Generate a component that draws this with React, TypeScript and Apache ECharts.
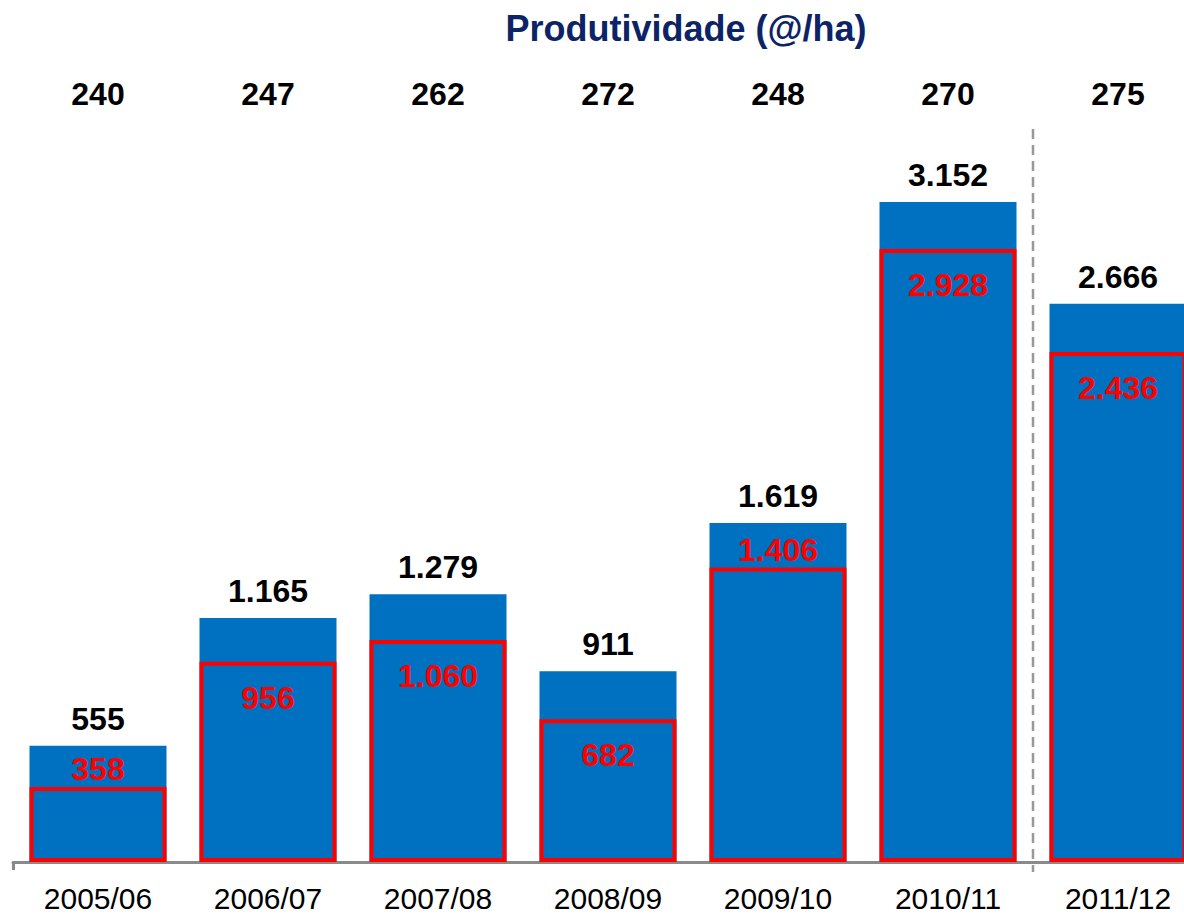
import React, { useEffect, useRef } from "react";
import * as echarts from "echarts";

const categories = ["2005/06", "2006/07", "2007/08", "2008/09", "2009/10", "2010/11", "2011/12"];
const productivity = [240, 247, 262, 272, 248, 270, 275];
const totalValues = [555, 1165, 1279, 911, 1619, 3152, 2666];
const redValues = [358, 956, 1060, 682, 1406, 2928, 2436];
// indices where the red label sits above the red bar
const redLabelAboveIdx = [0, 4];

const fmt = (v: number) =>
  v >= 1000 ? Math.floor(v / 1000) + "." + String(v % 1000).padStart(3, "0") : String(v);

const FONT = "'Liberation Sans', Arial, sans-serif";

export default function App() {
  const ref = useRef<HTMLDivElement>(null);
  useEffect(() => {
    if (!ref.current) return;
    const chart = echarts.init(ref.current, null, { renderer: "svg" });
    const scale = 660 / 3152;
    const yMax = 3600;
    const gridHeight = yMax * scale;
    const axisY = 862;
    chart.setOption({
      animation: false,
      textStyle: { fontFamily: FONT },
      title: {
        text: "Produtividade (@/ha)",
        left: 681,
        top: 5,
        textAlign: "center",
        textStyle: { fontFamily: FONT, fontSize: 36, fontWeight: "bold", color: "#0C2466" },
      },
      grid: {
        left: 13,
        top: axisY - gridHeight,
        width: 1190,
        height: gridHeight,
        containLabel: false,
        outerBoundsMode: "none",
      },
      xAxis: [
        {
          type: "category",
          data: categories,
          position: "bottom",
          axisLine: { show: true, lineStyle: { color: "#8a8a8a", width: 3 } },
          axisTick: {
            show: true,
            interval: (i: number) => i === 0,
            length: 8,
            lineStyle: { color: "#8a8a8a", width: 3 },
          },
          axisLabel: { fontFamily: FONT, fontSize: 30, color: "#000", margin: 21 },
        },
        {
          type: "category",
          data: productivity.map(String),
          position: "top",
          axisLine: { show: false },
          axisTick: { show: false },
          axisLabel: { fontFamily: FONT, fontSize: 32, fontWeight: "bold", color: "#000", margin: -2 },
        },
      ],
      yAxis: { type: "value", min: 0, max: yMax, show: false, splitLine: { show: false } },
      series: [
        {
          type: "bar",
          data: totalValues,
          barWidth: 137,
          itemStyle: { color: "#0070C0" },
          label: {
            show: true,
            position: "top",
            distance: 11,
            fontFamily: FONT,
            fontSize: 32,
            fontWeight: "bold",
            color: "#000",
            formatter: (p: any) => fmt(p.value),
          },
          z: 2,
        },
        {
          type: "bar",
          data: redValues.map((v, i) => ({
            value: v,
            label: redLabelAboveIdx.includes(i)
              ? { position: "top", distance: 2 }
              : { position: "insideTop", distance: 20 },
          })),
          barWidth: 137,
          barGap: "-100%",
          itemStyle: { color: "rgba(0,0,0,0)", borderColor: "#FF0000", borderWidth: 4 },
          label: {
            show: true,
            fontFamily: FONT,
            fontSize: 32,
            fontWeight: "bold",
            color: "#FF0000",
            formatter: (p: any) => fmt(p.value),
          },
          z: 3,
        },
      ],
    });
    const x5 = chart.convertToPixel({ xAxisIndex: 0 }, 5) as number;
    const x6 = chart.convertToPixel({ xAxisIndex: 0 }, 6) as number;
    const xd = (x5 + x6) / 2;
    chart.setOption({
      graphic: [
        {
          type: "line",
          shape: { x1: xd, y1: 129, x2: xd, y2: 872 },
          style: { stroke: "#999999", lineWidth: 2.5, lineDash: [10, 6] },
          z: 10,
        },
      ],
    });
    return () => chart.dispose();
  }, []);
  return (
    <div
      ref={ref}
      style={{ position: "absolute", left: 0, top: 0, width: 1184, height: 914, background: "#fff" }}
    />
  );
}
